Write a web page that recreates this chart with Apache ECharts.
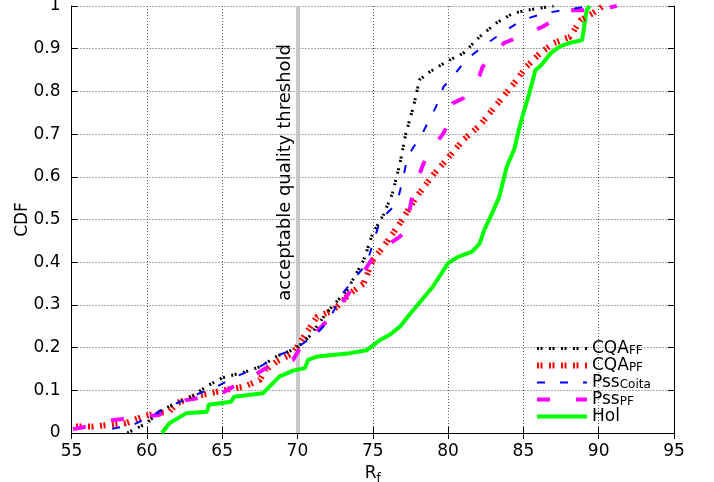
<!DOCTYPE html>
<html><head><meta charset="utf-8">
<script src="https://cdn.jsdelivr.net/npm/echarts@6/dist/echarts.min.js"></script>
<style>html,body{margin:0;padding:0;background:#fff}#c{width:714px;height:482px}</style>
</head><body><div id="c"></div>
<script>
const xTicks = [55, 60, 65, 70, 75, 80, 85, 90, 95];
const yTicks = [0, 0.1, 0.2, 0.3, 0.4, 0.5, 0.6, 0.7, 0.8, 0.9, 1];
const threshold = 70;
const thresholdLabel = 'acceptable quality threshold';

const cqaFF_x = [58.7,59.1,60.0,60.8,61.7,63.0,63.9,65.0,66.6,67.5,68.6,69.9,70.8,71.9,73.3,74.4,75.0,75.7,76.3,76.8,77.2,77.7,78.1,78.8,79.9,81.0,82.1,83.2,84.3,85.2,87.0];
const cqaFF_y = [0.0,0.007,0.023,0.05,0.066,0.085,0.108,0.129,0.144,0.155,0.179,0.198,0.226,0.28,0.335,0.405,0.468,0.51,0.56,0.63,0.702,0.764,0.827,0.846,0.87,0.889,0.928,0.96,0.983,0.99,1.0];

const cqaPF_x = [55.3,56.4,57.5,58.6,59.7,60.6,61.5,62.0,63.1,64.2,65.1,66.4,67.5,67.9,68.6,69.7,70.5,71.3,72.4,73.5,74.4,75.0,75.7,76.8,77.9,79.0,79.9,81.0,82.1,83.2,84.3,85.2,86.1,87.0,88.1,88.8,89.6,90.3];
const cqaPF_y = [0.015,0.015,0.019,0.023,0.038,0.046,0.05,0.07,0.085,0.093,0.1,0.108,0.124,0.148,0.167,0.187,0.23,0.272,0.288,0.327,0.35,0.405,0.436,0.491,0.553,0.604,0.64,0.686,0.72,0.768,0.815,0.858,0.889,0.913,0.928,0.967,0.983,1.0];

const pssCoita_x = [57.7,59.1,60.2,60.8,62.0,63.5,64.6,65.9,67.5,68.8,69.9,71.3,72.1,73.0,74.6,75.5,76.6,77.0,77.3,78.3,79.2,79.7,80.3,81.2,82.6,83.9,84.9,86.4,89.4];
const pssCoita_y = [0.01,0.019,0.038,0.05,0.07,0.093,0.108,0.132,0.155,0.183,0.198,0.233,0.265,0.327,0.397,0.499,0.538,0.593,0.647,0.702,0.764,0.811,0.834,0.874,0.913,0.944,0.967,0.983,1.0];

const pssPF_x = [55.1,56.0,57.7,58.4,60.8,61.7,62.6,64.8,65.3,67.0,68.4,69.7,70.5,71.0,72.4,73.9,75.2,76.8,77.2,77.7,78.6,79.7,79.9,80.3,81.0,82.1,82.3,83.7,85.8,86.3,88.1,89.0,90.5,91.2];
const pssPF_y = [0.009,0.015,0.03,0.033,0.042,0.062,0.077,0.089,0.1,0.132,0.163,0.171,0.218,0.226,0.28,0.35,0.421,0.46,0.475,0.569,0.652,0.702,0.717,0.772,0.784,0.838,0.858,0.913,0.944,0.952,0.99,0.99,0.995,1.0];

const hol_x = [61.0,61.5,62.6,64.0,64.1,65.6,65.8,67.7,68.8,69.7,70.5,70.7,71.3,73.5,74.6,75.5,76.2,76.8,77.5,78.1,79.0,80.0,80.7,81.6,82.1,82.4,82.8,83.4,83.9,84.4,84.7,85.0,85.4,85.8,86.2,86.8,87.4,88.1,88.9,89.2,89.4];
const hol_y = [0.0,0.023,0.046,0.05,0.066,0.073,0.085,0.093,0.132,0.146,0.152,0.171,0.179,0.187,0.194,0.218,0.232,0.249,0.28,0.305,0.343,0.398,0.413,0.425,0.444,0.475,0.505,0.553,0.624,0.665,0.71,0.749,0.796,0.85,0.862,0.889,0.905,0.914,0.92,0.99,1.0];

const seriesNames = ['CQA_FF', 'CQA_PF', 'Pss_Coita', 'Pss_PF', 'Hol'];
const legendRich = {
  'CQA_FF': '{b|CQA}{s|FF}',
  'CQA_PF': '{b|CQA}{s|PF}',
  'Pss_Coita': '{b|Pss}{s|Coita}',
  'Pss_PF': '{b|Pss}{s|PF}',
  'Hol': '{b|Hol}{s| }'
};
const styles = {
  'CQA_FF':    {color: '#000000', width: 3, type: [2, 1.5, 2, 6.5]},
  'CQA_PF':    {color: '#ff0000', width: 6, type: [2, 1.5, 2, 6.5]},
  'Pss_Coita': {color: '#0000ff', width: 2, type: [8, 15]},
  'Pss_PF':    {color: '#ff00ff', width: 4, type: [13, 26]},
  'Hol':       {color: '#00ff00', width: 4, type: 'solid'}
};
const pair = (xs, ys) => xs.map((x, i) => [x, ys[i]]);
const FONT = 'DejaVu Sans';

const chart = echarts.init(document.getElementById('c'), null, {renderer: 'canvas'});
const axisCommon = {
  type: 'value',
  axisLine: {show: true, lineStyle: {color: '#000', width: 1}},
  axisTick: {show: true, inside: true, length: 6, lineStyle: {color: '#000'}},
};
const mkSeries = (name, xs, ys, z) => ({
  name, type: 'line', symbol: 'none', data: pair(xs, ys), z,
  lineStyle: Object.assign({}, styles[name]), itemStyle: {color: styles[name].color}
});
chart.setOption({
  animation: false,
  backgroundColor: '#fff',
  textStyle: {fontFamily: FONT},
  grid: {left: 71.5, right: 40, top: 6, bottom: 49, containLabel: false, outerBoundsMode: 'none'},
  xAxis: [
    Object.assign({}, axisCommon, {
      min: xTicks[0], max: xTicks[xTicks.length - 1], interval: 5, position: 'bottom',
      axisLabel: {color: '#000', fontSize: 17, fontFamily: FONT, margin: 10},
      splitLine: {show: true, lineStyle: {color: '#555', type: [1, 2], width: 1}},
      name: '{a|R}{b|f}', nameLocation: 'middle', nameGap: 24,
      nameTextStyle: {rich: {a: {fontSize: 17, color: '#000', fontFamily: FONT, verticalAlign: 'top'}, b: {fontSize: 12, color: '#000', fontFamily: FONT, verticalAlign: 'top', padding: [8, 0, 0, 0]}}}
    }),
    Object.assign({}, axisCommon, {
      min: xTicks[0], max: xTicks[xTicks.length - 1], interval: 5, position: 'top',
      axisLabel: {show: false}, splitLine: {show: false}
    })
  ],
  yAxis: [
    Object.assign({}, axisCommon, {
      min: 0, max: 1, interval: 0.1, position: 'left',
      axisLabel: {color: '#000', fontSize: 17, fontFamily: FONT, margin: 11, formatter: v => String(+v.toFixed(1))},
      splitLine: {show: true, lineStyle: {color: '#555', type: [1, 2], width: 1}},
      name: 'CDF', nameLocation: 'middle', nameGap: 40, nameMoveOverlap: false,
      nameTextStyle: {color: '#000', fontSize: 17, fontFamily: FONT}
    }),
    Object.assign({}, axisCommon, {
      min: 0, max: 1, interval: 0.1, position: 'right',
      axisLabel: {show: false}, splitLine: {show: false}
    })
  ],
  legend: {
    data: seriesNames.map(n => ({name: n, lineStyle: {width: styles[n].width}})),
    orient: 'vertical',
    left: 529, top: 335,
    itemWidth: 50, itemHeight: 14, itemGap: 0,
    itemStyle: {opacity: 0},
    formatter: n => legendRich[n],
    textStyle: {
      color: '#000', fontFamily: FONT, fontSize: 17,
      rich: {
        b: {fontSize: 17, color: '#000', fontFamily: FONT, verticalAlign: 'top', lineHeight: 16},
        s: {fontSize: 12, color: '#000', fontFamily: FONT, verticalAlign: 'bottom', padding: [5, 0, 0, 0]}
      }
    }
  },
  series: [
    {
      name: 'threshold', type: 'line', data: [], silent: true,
      markLine: {
        silent: true, symbol: 'none', z: 1,
        lineStyle: {color: '#c8c8c8', width: 4, type: 'solid'},
        label: {show: true, formatter: thresholdLabel, position: 'insideEndTop', color: '#000', fontSize: 18, fontFamily: FONT, distance: 3, padding: [0, 35, 0, 0]},
        data: [{xAxis: threshold}]
      }
    },
    mkSeries('CQA_FF', cqaFF_x, cqaFF_y, 5),
    mkSeries('CQA_PF', cqaPF_x, cqaPF_y, 4),
    mkSeries('Pss_Coita', pssCoita_x, pssCoita_y, 5),
    mkSeries('Pss_PF', pssPF_x, pssPF_y, 4),
    mkSeries('Hol', hol_x, hol_y, 3)
  ]
});
</script></body></html>
